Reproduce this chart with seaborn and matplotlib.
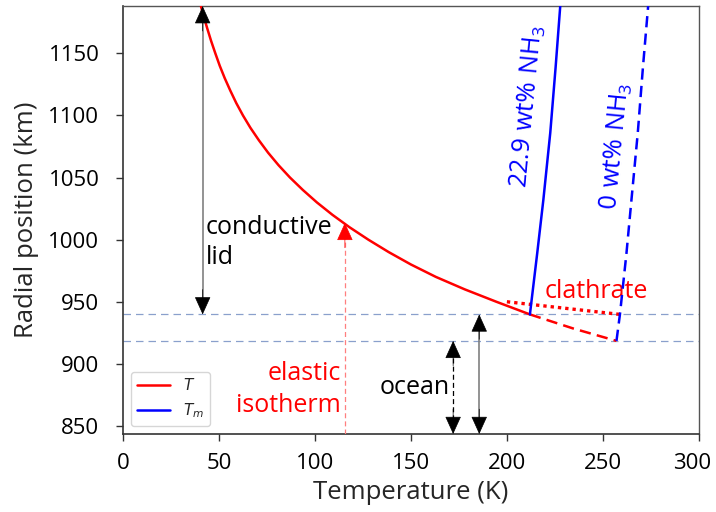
import numpy as np
import pandas as pd
import matplotlib
matplotlib.use("Agg")
import matplotlib.pyplot as plt
import matplotlib.transforms as mtransforms
import seaborn as sns
from matplotlib.lines import Line2D

# Conductive-lid temperature profile T(r)
lid_r = [1188, 1180, 1170, 1160, 1150, 1140, 1130, 1120, 1110, 1100, 1090, 1080, 1070,
         1060, 1050, 1040, 1030, 1020, 1010, 1000, 990, 980, 970, 960, 950, 939.8]
lid_T = [40.6, 42.0, 43.9, 45.9, 48.1, 50.4, 53.0, 55.9, 59.0, 62.5, 66.4, 70.8, 75.6,
         81.0, 87.0, 93.7, 101.0, 109.1, 118.0, 127.8, 138.4, 150.0, 163.0, 178.0, 194.5, 212.0]

# Continuation of T below the 22.9 wt% NH3 ocean interface (pure-water case)
ext_r = [939.8, 928.5, 918.5]
ext_T = [212.0, 234.5, 257.1]

# Clathrate-lid profile
clath_r = [950, 939.8]
clath_T = [200.0, 259.0]

# Melting temperature Tm(r)
melt_nh3_r = [939.8, 989, 1032, 1086, 1139, 1188]
melt_nh3_T = [212.0, 215.8, 219.0, 222.6, 225.4, 227.8]
melt_pure_r = [918.5, 939.8, 989, 1032, 1086, 1139, 1188]
melt_pure_T = [257.1, 258.9, 262.3, 264.9, 268.2, 270.9, 273.6]

# Ice-ocean interfaces (km)
interfaces = [939.8, 918.5]

# Elastic isotherm temperature (K) and the radius where it meets T(r)
elastic_T = 115.6
elastic_r = 1013.5

# Arrow positions (K)
lid_arrow_T = 41.5
ocean_pure_T = 172.0
ocean_nh3_T = 185.6

x_ticks = [0, 50, 100, 150, 200, 250, 300]
y_ticks = [850, 900, 950, 1000, 1050, 1100, 1150]
x_lim = (0, 300)
y_lim = (843.5, 1188)

sns.set_style("ticks")
plt.rcParams["font.family"] = ["Open Sans", "DejaVu Sans"]
plt.rcParams["mathtext.fontset"] = "dejavusans"

fig = plt.figure(figsize=(7.16, 5.12), dpi=100)
ax = fig.add_axes([0.1718, 0.1523, 0.8042, 0.8357])

RED = "#ff0000"
BLUE = "#0000ff"

def line(T, r, **kw):
    df = pd.DataFrame({"T": T, "r": r})
    sns.lineplot(data=df, x="T", y="r", sort=False, estimator=None, ax=ax, **kw)

# Interfaces
for yv in interfaces:
    ax.axhline(yv, color="#8aa0cc", lw=0.9, ls=(0, (6, 4)), zorder=1)

line(lid_T, lid_r, color=RED, lw=1.8, zorder=4)
line(ext_T, ext_r, color=RED, lw=1.8, ls=(0, (4.5, 2.5)), zorder=4)
line(clath_T, clath_r, color=RED, lw=2.4, ls=(0, (1, 1.2)), zorder=4)
line(melt_nh3_T, melt_nh3_r, color=BLUE, lw=1.8, zorder=4)
line(melt_pure_T, melt_pure_r, color=BLUE, lw=1.8, ls=(0, (4.5, 2.5)), zorder=4)

def head(x, tip, back, color):
    ax.annotate("", xy=(x, tip), xytext=(x, back),
                arrowprops=dict(arrowstyle="-|>,head_length=1.15,head_width=0.52",
                                color=color, lw=0.5, shrinkA=0, shrinkB=0,
                                mutation_scale=10), zorder=6)

# Conductive lid arrow
ax.plot([lid_arrow_T, lid_arrow_T], [interfaces[0] + 5, y_lim[1] - 5],
        color="#808080", lw=1.2, zorder=3)
head(lid_arrow_T, y_lim[1], y_lim[1] - 20, "black")
head(lid_arrow_T, interfaces[0], interfaces[0] + 20, "black")

# Ocean arrows
ax.plot([ocean_pure_T, ocean_pure_T], [y_lim[0] + 5, interfaces[1] - 5],
        color="black", lw=0.9, ls=(0, (4, 2.5)), zorder=3)
head(ocean_pure_T, interfaces[1], interfaces[1] - 20, "black")
head(ocean_pure_T, y_lim[0], y_lim[0] + 20, "black")
ax.plot([ocean_nh3_T, ocean_nh3_T], [y_lim[0] + 5, interfaces[0] - 5],
        color="#808080", lw=1.2, zorder=3)
head(ocean_nh3_T, interfaces[0], interfaces[0] - 20, "black")
head(ocean_nh3_T, y_lim[0], y_lim[0] + 20, "black")

# Elastic isotherm arrow
ax.plot([elastic_T, elastic_T], [y_lim[0], elastic_r - 8],
        color="#ff7f7f", lw=0.9, ls=(0, (4, 2.5)), zorder=3)
head(elastic_T, elastic_r, elastic_r - 20, RED)

# Annotations
FS = 18
ax.text(43.3, 997.5, "conductive\nlid", fontsize=FS, color="black",
        ha="left", va="center", linespacing=1.28)
ax.text(113.5, 879.5, "elastic\nisotherm", fontsize=FS, color=RED,
        ha="right", va="center", multialignment="right", linespacing=1.36)
ax.text(152, 881, "ocean", fontsize=FS, color="black", ha="center", va="center")
ax.text(246.5, 958, "clathrate", fontsize=FS, color=RED, ha="center", va="center")
ax.text(210.8, 1107, r"$\mathregular{22.9\ wt\%\ NH_3}$", fontsize=FS, color=BLUE,
        ha="center", va="center", rotation=84.5, rotation_mode="anchor")
ax.text(257, 1075.5, r"$\mathregular{0\ wt\%\ NH_3}$", fontsize=FS, color=BLUE,
        ha="center", va="center", rotation=84.5, rotation_mode="anchor")

ax.set_xlim(*x_lim)
ax.set_ylim(*y_lim)
ax.set_xticks(x_ticks)
ax.set_yticks(y_ticks)
ax.tick_params(labelsize=16, length=5, width=1, color="#333333", labelcolor="black")
ax.tick_params(axis="x", pad=9)
ax.tick_params(axis="y", pad=12)
ax.set_xlabel("Temperature (K)", fontsize=18.5, labelpad=4)
ax.set_ylabel("Radial position (km)", fontsize=18.5, labelpad=7)
for s in ["left", "bottom"]:
    ax.spines[s].set_color("#333333")
    ax.spines[s].set_linewidth(1.2)
for s in ["top", "right"]:
    ax.spines[s].set_visible(True)
    ax.spines[s].set_color("#555555")
    ax.spines[s].set_linewidth(1.0)

# Pull the last x tick label slightly inward so it stays on the canvas
last = ax.get_xticklabels()[-1]
last.set_transform(last.get_transform() +
                   mtransforms.ScaledTranslation(-5 / 72, 0, fig.dpi_scale_trans))

handles = [Line2D([], [], color=RED, lw=1.8), Line2D([], [], color=BLUE, lw=1.8)]
ax.legend(handles, [r"$T$", r"$T_m$"], loc="lower left", fontsize=11,
          frameon=True, borderaxespad=0.5, handlelength=2.2)

fig.savefig("out.png", dpi=100)
